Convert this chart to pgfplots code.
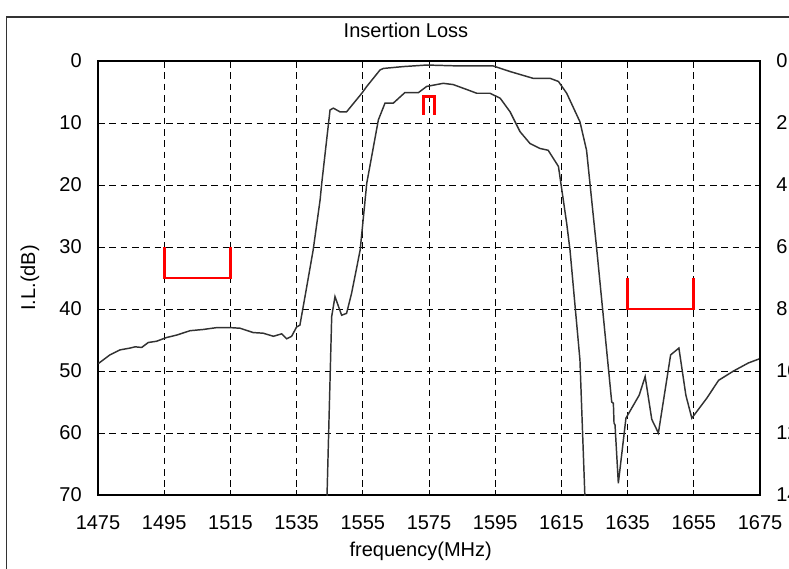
\documentclass[border=0pt]{standalone}
\usepackage{fontspec}
\setmainfont{Liberation Sans}
\usepackage{pgfplots}
\pgfplotsset{compat=1.18}
\definecolor{curve}{RGB}{50,50,50}
\begin{document}
\fontsize{15pt}{18pt}\selectfont
\begin{tikzpicture}
\begin{axis}[
  at={(0,0)}, anchor=south west,
  scale only axis, width=496.5pt, height=325.5pt,
  xmin=1475, xmax=1675, ymin=0, ymax=70, y dir=reverse,
  xtick={1475,1495,...,1675}, ytick={0,10,...,70},
  grid=major, grid style={black, line width=0.7pt, dash pattern=on 5pt off 3.5pt},
  axis line style={black, line width=1.3pt},
  tick style={black, line width=0.7pt}, major tick length=4pt,
  xtick pos=bottom, ytick pos=left,
  /pgf/number format/assume math mode=true,
  /pgf/number format/set thousands separator={},
  xticklabel style={yshift=-10pt},
  yticklabel style={xshift=-7pt},
  clip=true,
]
\addplot[curve, line width=1.1pt] coordinates {
(1475.1,48.8) (1478.6,47.4) (1481.6,46.6) (1484.7,46.3) (1486.2,46.1) (1488.2,46.2)
(1490.2,45.4) (1492.7,45.2) (1495.7,44.6) (1498.8,44.2) (1502.8,43.5) (1506.8,43.3)
(1510.9,43.0) (1514.9,43.0) (1517.9,43.1) (1521.9,43.8) (1524.9,43.9) (1528.0,44.4)
(1530.5,44.0) (1532.0,44.8) (1533.5,44.4) (1535.0,42.9) (1536.0,42.6) (1537.8,37.2)
(1540.0,30.5) (1542.1,22.4) (1542.6,19.7) (1545.1,7.9) (1546.1,7.6) (1548.1,8.2)
(1550.1,8.2) (1554.7,5.2) (1556.2,4.1) (1560.2,1.45) (1561.2,1.2) (1567.2,0.9)
(1574.3,0.65) (1584.4,0.8) (1594.4,0.8) (1599.5,1.7) (1606.5,2.8) (1611.6,2.8)
(1614.1,3.3) (1616.6,5.2) (1620.6,9.8) (1622.6,14.4) (1625.7,30.5) (1630.2,55.0)
(1630.7,55.2) (1630.9,58.4) (1631.2,58.7) (1632.2,68.1) (1634.5,57.6) (1638.5,53.9)
(1640.3,50.9) (1642.3,57.8) (1644.3,60.0) (1648.0,47.4) (1650.5,46.3) (1652.6,53.9)
(1654.4,57.6) (1658.9,54.4) (1662.5,51.5) (1667.0,50.0) (1671.5,48.7) (1675.0,48.0)
};
\addplot[red, line width=2.2pt] coordinates {(1495,30) (1495,35) (1515,35) (1515,30)};
\addplot[red, line width=2.2pt] coordinates {(1635,35) (1635,40) (1655,40) (1655,35)};
\end{axis}
\begin{axis}[
  at={(0,0)}, anchor=south west,
  scale only axis, width=496.5pt, height=325.5pt,
  xmin=1475, xmax=1675, ymin=0, ymax=14, y dir=reverse,
  axis x line=none, axis y line*=right,
  ytick={0,2,...,14}, major tick length=0pt,
  axis line style={black, line width=1.3pt},
  /pgf/number format/assume math mode=true,
  yticklabel style={xshift=7pt},
  clip=true,
]
\addplot[curve, line width=1.1pt] coordinates {
(1544.0,14.8) (1545.6,8.24) (1546.6,7.6) (1548.6,8.2) (1550.1,8.14) (1551.6,7.5)
(1554.2,6.1) (1555.7,4.48) (1556.2,3.94) (1559.7,1.9) (1561.7,1.36) (1564.2,1.36)
(1567.7,1.02) (1571.8,1.02) (1574.3,0.82) (1576.3,0.78) (1579.3,0.72) (1582.3,0.76)
(1586.4,0.92) (1589.4,1.04) (1593.4,1.04) (1596.5,1.2) (1599.5,1.64) (1602.5,2.28)
(1605.5,2.66) (1608.5,2.82) (1611.0,2.88) (1614.1,3.4) (1616.6,5.24) (1617.6,6.1)
(1620.6,9.64) (1622.1,14.06) (1622.3,14.8)
};
\addplot[red, line width=2.2pt] coordinates {(1573.4,1.74) (1573.4,1.16) (1576.6,1.16) (1576.6,1.74)};
\end{axis}
\node at (231pt,348.75pt) {Insertion Loss};
\node at (242pt,-42pt) {frequency(MHz)};
\node[rotate=90] at (-51pt,162.75pt) {I.L.(dB)};
\draw[black!80, line width=0.8pt] (-68.6pt,358.5pt) rectangle (560pt,-80pt);
\pgfresetboundingbox
\path[use as bounding box] (-73.5pt,-54.75pt) rectangle (518.25pt,371.25pt);
\end{tikzpicture}
\end{document}
